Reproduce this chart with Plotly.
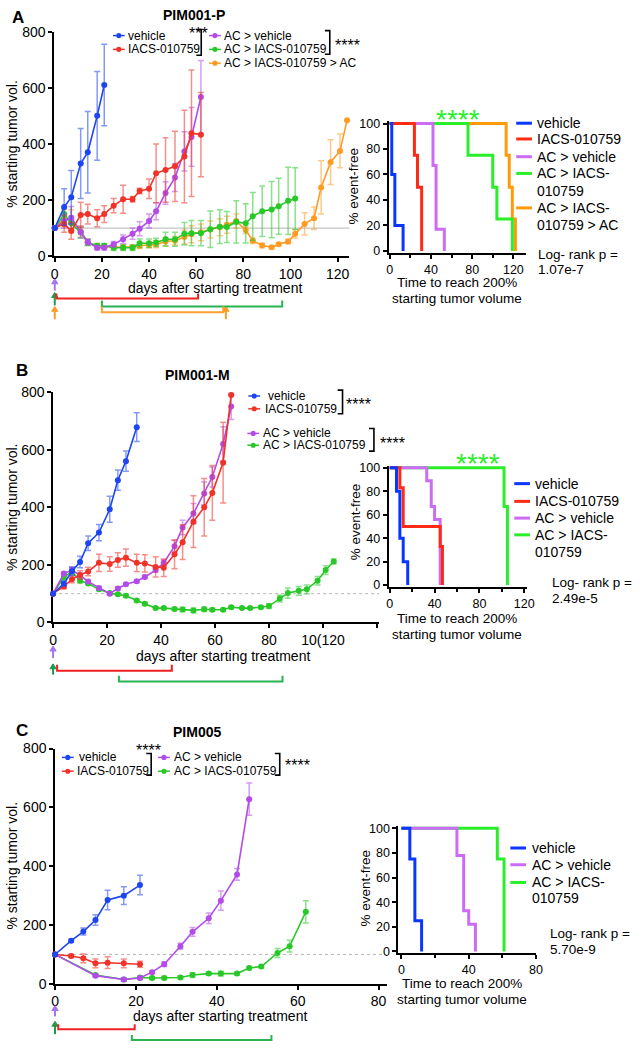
import plotly.graph_objects as go

W, H = 641, 1050
FONT = "Liberation Sans, Arial, Helvetica, sans-serif"

BLUE = "#1e46f0"
RED = "#f03228"
PURPLE = "#b24be8"
GREEN = "#28c828"
ORANGE = "#ff9b23"
KM_BLUE = "#0a37ff"
KM_RED = "#ff2a14"
KM_PURPLE = "#cc6cf5"
KM_GREEN = "#2aee2a"
KM_ORANGE = "#ff9a0a"

# ---------------- DATA ----------------
# Panel A : PIM001-P  (% starting tumor volume, mean +/- error)
a_veh_days = [0, 4, 7, 11, 14, 18, 21]
a_veh = [100, 175, 210, 330, 370, 500, 610]
a_veh_err = [0, 65, 95, 125, 145, 158, 145]

a_iacs_days = [0, 4, 7, 11, 14, 18, 21, 25, 29, 33, 36, 40, 43, 47, 51, 55, 58, 62]
a_iacs = [100, 115, 90, 147, 150, 135, 150, 180, 203, 203, 232, 240, 295, 307, 320, 355, 438, 433]
a_iacs_err = [0, 30, 30, 45, 35, 30, 30, 25, 50, 10, 10, 35, 105, 115, 125, 165, 225, 150]

a_acveh_days = [0, 4, 7, 11, 14, 18, 21, 25, 29, 33, 36, 40, 43, 47, 51, 55, 58, 62]
a_acveh = [100, 125, 137, 86, 50, 30, 30, 42, 60, 80, 98, 125, 160, 225, 280, 373, 425, 567]
a_acveh_err = [0, 25, 40, 20, 10, 8, 8, 10, 15, 20, 25, 25, 30, 40, 50, 70, 105, 130]

a_aciacs_days = [0, 4, 7, 11, 14, 18, 21, 25, 29, 33, 36, 40, 43, 47, 51, 55, 58, 62, 66, 70,
                 73, 77, 81, 84, 88, 92, 95, 99, 102]
a_aciacs = [100, 150, 117, 84, 49, 37, 37, 30, 30, 30, 46, 46, 49, 60, 60, 80, 82, 82, 96, 105,
            104, 122, 117, 142, 160, 166, 178, 197, 205]
a_aciacs_err = [0, 20, 25, 20, 12, 8, 8, 10, 10, 10, 15, 15, 15, 25, 25, 40, 45, 45, 65, 60,
                55, 75, 70, 85, 90, 100, 100, 120, 110]

a_tri_days = [0, 4, 7, 11, 14, 18, 21, 25, 29, 33, 36, 40, 43, 47, 51, 55, 58, 62, 66, 70,
              73, 77, 81, 84, 88, 92, 95, 99, 102, 106, 110, 113, 117, 121, 124]
a_tri = [100, 135, 125, 88, 50, 35, 35, 33, 32, 32, 37, 40, 42, 52, 55, 68, 78, 85, 95, 103,
         112, 125, 93, 55, 38, 32, 42, 52, 80, 115, 135, 245, 335, 375, 484]
a_tri_err = [0, 30, 40, 20, 10, 8, 8, 8, 8, 8, 10, 10, 12, 15, 15, 25, 30, 30, 30, 30,
             30, 25, 12, 10, 8, 5, 5, 8, 15, 40, 40, 95, 80, 60, 0]

# Panel A Kaplan-Meier (time to 200%, % event-free)
km_a_veh_t, km_a_veh_s = [0, 2, 5, 13], [100, 60, 20, 0]
km_a_iacs_t, km_a_iacs_s = [0, 24, 27, 31], [100, 75, 50, 0]
km_a_acveh_t, km_a_acveh_s = [0, 42, 45, 53], [100, 67, 17, 0]
km_a_aciacs_t, km_a_aciacs_s = [0, 76, 100, 104, 119], [100, 75, 50, 25, 0]
km_a_tri_t, km_a_tri_s = [0, 113, 116, 119, 122], [100, 75, 50, 25, 0]

# Panel B : PIM001-M
b_veh_days = [0, 4, 7, 10, 13, 17, 21, 24, 27, 31]
b_veh = [100, 135, 178, 210, 275, 312, 393, 494, 560, 678]
b_veh_err = [0, 8, 15, 20, 25, 28, 45, 35, 35, 50]

b_iacs_days = [0, 4, 7, 10, 13, 17, 21, 24, 27, 31, 34, 38, 41, 45, 48, 52, 56, 59, 63, 66]
b_iacs = [100, 125, 150, 165, 177, 207, 203, 217, 225, 207, 205, 193, 190, 237, 279, 350, 400, 450, 555, 790]
b_iacs_err = [0, 8, 12, 15, 15, 30, 25, 25, 30, 30, 30, 35, 30, 50, 60, 90, 100, 95, 140, 0]

b_acveh_days = [0, 4, 7, 10, 13, 17, 21, 24, 27, 31, 34, 38, 41, 45, 48, 52, 56, 59, 63, 66]
b_acveh = [100, 170, 182, 164, 142, 120, 100, 118, 133, 143, 158, 182, 207, 265, 330, 378, 448, 505, 620, 750]
b_acveh_err = [0, 5, 10, 8, 5, 5, 5, 5, 5, 5, 5, 8, 10, 20, 25, 35, 40, 35, 60, 45]

b_aciacs_days = [0, 4, 7, 10, 13, 17, 21, 24, 27, 31, 34, 38, 41, 45, 48, 52, 56, 59, 63, 66,
                 70, 73, 77, 80, 84, 87, 91, 94, 98, 101, 104]
b_aciacs = [100, 158, 177, 145, 135, 115, 102, 98, 93, 76, 65, 50, 50, 47, 45, 42, 46, 44, 44, 53,
            50, 50, 53, 57, 83, 102, 110, 115, 145, 182, 212]
b_aciacs_err = [0, 10, 10, 8, 5, 5, 5, 5, 5, 5, 5, 5, 5, 5, 8, 8, 8, 5, 5, 5,
                3, 3, 5, 8, 12, 18, 15, 15, 15, 15, 8]

km_b_veh_t, km_b_veh_s = [0, 6, 9, 12, 16], [100, 80, 40, 20, 0]
km_b_iacs_t, km_b_iacs_s = [0, 9, 12, 45, 47], [100, 83, 50, 33, 0]
km_b_acveh_t, km_b_acveh_s = [0, 33, 37, 40, 45], [100, 89, 67, 56, 0]
km_b_aciacs_t, km_b_aciacs_s = [0, 102, 105], [100, 67, 0]

# Panel C : PIM005
c_veh_days = [0, 4, 7, 10, 13, 17, 21]
c_veh = [100, 147, 178, 217, 285, 300, 336]
c_veh_err = [0, 5, 12, 18, 33, 30, 33]

c_iacs_days = [0, 4, 7, 10, 13, 17, 21]
c_iacs = [100, 95, 87, 70, 72, 70, 67]
c_iacs_err = [0, 5, 15, 15, 20, 15, 10]

c_acveh_days = [0, 10, 17, 21, 24, 27, 31, 34, 38, 41, 45, 48]
c_acveh = [100, 28, 15, 20, 40, 67, 128, 177, 223, 283, 372, 628]
c_acveh_err = [0, 5, 5, 5, 5, 8, 10, 15, 18, 33, 20, 55]

c_aciacs_days = [0, 10, 17, 21, 24, 27, 31, 34, 38, 41, 45, 48, 51, 55, 58, 62]
c_aciacs = [100, 30, 15, 22, 20, 20, 22, 30, 35, 35, 35, 54, 59, 105, 128, 245]
c_aciacs_err = [0, 5, 5, 5, 5, 5, 5, 8, 5, 8, 5, 5, 5, 15, 20, 38]

km_c_veh_t, km_c_veh_s = [0, 5, 8, 12], [100, 75, 25, 0]
km_c_acveh_t, km_c_acveh_s = [0, 33, 37, 40, 44], [100, 78, 33, 22, 0]
km_c_aciacs_t, km_c_aciacs_s = [0, 57, 61], [100, 75, 0]

# treatment windows (days)
a_treat_iacs = [0.7, 60.8]
a_treat_aciacs = [20, 96.5]
a_treat_tri = [20, 71.5]
a_ac_second = 72.6
b_treat_iacs = [1.5, 44]
b_treat_aciacs = [24.4, 85]
c_treat_iacs = [0.8, 19.7]
c_treat_aciacs = [19, 53.5]

main_ticks_a = [0, 20, 40, 60, 80, 100, 120]
main_ticks_b = [0, 20, 40, 60, 80, 100, 120]
main_ticklabels_b = ["0", "20", "40", "60", "80", "10(120", ""]
main_ticks_c = [0, 20, 40, 60, 80]
y_ticks_main = [0, 200, 400, 600, 800]
y_ticks_km = [0, 20, 40, 60, 80, 100]

# ---------------- LAYOUT GEOMETRY (pixels) ----------------
AX = {
    1: dict(x=(51, 352), xr=(-0.3, 125), y=(24, 252), yr=(0, 800)),
    2: dict(x=(392, 532), xr=(-1, 132.3), y=(114.7, 248.6), yr=(-1.5, 102)),
    3: dict(x=(50, 382), xr=(0, 120.7), y=(390, 624), yr=(0, 800)),
    4: dict(x=(392, 533), xr=(-1, 122.5), y=(464.6, 587.8), yr=(-1.5, 102)),
    5: dict(x=(52, 390), xr=(0, 82), y=(752, 991), yr=(0, 800)),
    6: dict(x=(402, 542.5), xr=(-1.75, 80.2), y=(830.5, 959.9), yr=(-1.5, 102)),
}


def px(x):
    return x / W


def py(y):
    return 1 - y / H


def d2px(i, d):
    a = AX[i]
    x0, x1 = a["x"]
    r0, r1 = a["xr"]
    return x0 + (d - r0) / (r1 - r0) * (x1 - x0)


def rgba(hexc, a):
    h = hexc.lstrip("#")
    return "rgba(%d,%d,%d,%.2f)" % (int(h[0:2], 16), int(h[2:4], 16), int(h[4:6], 16), a)


fig = go.Figure()


def axn(i):
    return ("x" if i == 1 else "x%d" % i), ("y" if i == 1 else "y%d" % i)


def add_series(i, days, vals, err, color):
    xa, ya = axn(i)
    fig.add_trace(go.Scatter(
        x=days, y=vals, mode="lines+markers", xaxis=xa, yaxis=ya,
        line=dict(color=color, width=1.6), marker=dict(color=color, size=6),
        error_y=dict(type="data", array=err, visible=True, color=rgba(color, 0.55),
                     thickness=1.5, width=3),
        cliponaxis=False, showlegend=False, hoverinfo="skip"))


def add_km(i, t, s, color):
    xa, ya = axn(i)
    fig.add_trace(go.Scatter(
        x=t, y=s, mode="lines", line=dict(color=color, width=3, shape="hv"),
        xaxis=xa, yaxis=ya, cliponaxis=False, showlegend=False, hoverinfo="skip"))


# Panel A
add_series(1, a_tri_days, a_tri, a_tri_err, ORANGE)
add_series(1, a_aciacs_days, a_aciacs, a_aciacs_err, GREEN)
add_series(1, a_acveh_days, a_acveh, a_acveh_err, PURPLE)
add_series(1, a_iacs_days, a_iacs, a_iacs_err, RED)
add_series(1, a_veh_days, a_veh, a_veh_err, BLUE)
add_km(2, km_a_tri_t, km_a_tri_s, KM_ORANGE)
add_km(2, km_a_aciacs_t, km_a_aciacs_s, KM_GREEN)
add_km(2, km_a_acveh_t, km_a_acveh_s, KM_PURPLE)
add_km(2, km_a_iacs_t, km_a_iacs_s, KM_RED)
add_km(2, km_a_veh_t, km_a_veh_s, KM_BLUE)

# Panel B
add_series(3, b_aciacs_days, b_aciacs, b_aciacs_err, GREEN)
add_series(3, b_acveh_days, b_acveh, b_acveh_err, PURPLE)
add_series(3, b_iacs_days, b_iacs, b_iacs_err, RED)
add_series(3, b_veh_days, b_veh, b_veh_err, BLUE)
add_km(4, km_b_aciacs_t, km_b_aciacs_s, KM_GREEN)
add_km(4, km_b_acveh_t, km_b_acveh_s, KM_PURPLE)
add_km(4, km_b_iacs_t, km_b_iacs_s, KM_RED)
add_km(4, km_b_veh_t, km_b_veh_s, KM_BLUE)

# Panel C
add_series(5, c_aciacs_days, c_aciacs, c_aciacs_err, GREEN)
add_series(5, c_acveh_days, c_acveh, c_acveh_err, PURPLE)
add_series(5, c_iacs_days, c_iacs, c_iacs_err, RED)
add_series(5, c_veh_days, c_veh, c_veh_err, BLUE)
add_km(6, km_c_aciacs_t, km_c_aciacs_s, KM_GREEN)
add_km(6, km_c_acveh_t, km_c_acveh_s, KM_PURPLE)
add_km(6, km_c_veh_t, km_c_veh_s, KM_BLUE)

# ---------------- AXES ----------------
layout_axes = {}
tickfont_main = dict(family=FONT, size=14, color="black")
tickfont_km = dict(family=FONT, size=12.5, color="black")

for i, a in AX.items():
    xa, ya = axn(i)
    km = i % 2 == 0
    xkey = "xaxis" if i == 1 else "xaxis%d" % i
    ykey = "yaxis" if i == 1 else "yaxis%d" % i
    if km:
        if i == 6:
            xt, mt = [0, 40, 80], [20, 60]
        else:
            xt, mt = [0, 40, 80, 120], [20, 60, 100]
        xcfg = dict(tickvals=xt, minor=dict(tickvals=mt, ticks="outside", ticklen=3,
                                            tickwidth=1.5, tickcolor="black"))
        ycfg = dict(tickvals=y_ticks_km)
        lw = 2
        tf = tickfont_km
    else:
        if i == 1:
            xcfg = dict(tickvals=main_ticks_a)
        elif i == 3:
            xcfg = dict(tickvals=main_ticks_b, ticktext=main_ticklabels_b)
        else:
            xcfg = dict(tickvals=main_ticks_c)
        ycfg = dict(tickvals=y_ticks_main)
        lw = 1.5
        tf = tickfont_main
    common = dict(showline=True, linecolor="black", linewidth=lw, ticks="outside",
                  ticklen=4, tickwidth=1.5, tickcolor="black", showgrid=False,
                  zeroline=False, tickfont=tf, fixedrange=True, layer="below traces")
    layout_axes[xkey] = dict(domain=[px(a["x"][0]), px(a["x"][1])], range=list(a["xr"]),
                             anchor=ya, ticklabelstandoff=0, **xcfg, **common)
    layout_axes[ykey] = dict(domain=[py(a["y"][1]), py(a["y"][0])], range=list(a["yr"]),
                             anchor=xa, ticklabelstandoff=0, **ycfg, **common)

shapes = []
annotations = []


def txt(x, y, s, size=14, color="black", anchor="left", bold=False, angle=0):
    if bold:
        s = "<b>%s</b>" % s
    annotations.append(dict(x=px(x), y=py(y), xref="paper", yref="paper", text=s,
                            showarrow=False, xanchor=anchor, yanchor="middle",
                            textangle=angle, borderpad=0,
                            font=dict(family=FONT, size=size, color=color)))


def stars(x, y, s, size=17, color="black", anchor="left"):
    # y is the visual centre of the asterisks
    txt(x, y + 0.28 * size, s, size=size, color=color, anchor=anchor)


def pline(x0, y0, x1, y1, color, width=1.5, dash="solid"):
    shapes.append(dict(type="line", xref="paper", yref="paper", x0=px(x0), y0=py(y0),
                       x1=px(x1), y1=py(y1), line=dict(color=color, width=width, dash=dash)))


def ppath(pts, color, width=1.5, fill=None):
    d = "M " + " L ".join("%.5f,%.5f" % (px(x), py(y)) for x, y in pts)
    if fill:
        d += " Z"
    shapes.append(dict(type="path", xref="paper", yref="paper", path=d,
                       line=dict(color=color, width=width),
                       fillcolor=fill if fill else "rgba(0,0,0,0)"))


def leg_marker(xc, yc, color):
    pline(xc - 6, yc, xc + 6, yc, color, 1.5)
    shapes.append(dict(type="circle", xref="paper", yref="paper",
                       x0=px(xc - 2.6), x1=px(xc + 2.6), y0=py(yc + 2.6), y1=py(yc - 2.6),
                       fillcolor=color, line=dict(color=color, width=0)))


def rbracket(x, ytop, ybot):
    ppath([(x - 5, ytop), (x, ytop), (x, ybot), (x - 5, ybot)], "black", 1.6)


def km_leg(x0, y, color):
    pline(x0, y, x0 + 16, y, color, 3)


def arrow(x, ybot, ytop, color):
    pline(x, ybot, x, ytop + 4, color, 2)
    ppath([(x - 3.2, ytop + 5), (x, ytop), (x + 3.2, ytop + 5)], color, 1, fill=color)


def tbracket(i, d0, d1, ybot, ytop, color):
    x0, x1 = d2px(i, d0), d2px(i, d1)
    ppath([(x0, ytop), (x0, ybot), (x1, ybot), (x1, ytop)], color, 2)


# reference lines at 100 %
for i, dash in [(1, "solid"), (3, "dot"), (5, "dot")]:
    xa, ya = axn(i)
    shapes.append(dict(type="line", xref=xa + " domain", yref=ya, x0=0, x1=1, y0=100, y1=100,
                       line=dict(color="#b4b4b4", width=1, dash=dash), layer="below"))

# ---------- Panel A texts ----------
txt(14, 10, "A", 17, bold=True, anchor="center")
txt(194, 7, "PIM001-P", 14, bold=True, anchor="center")
txt(8, 138, "% starting tumor vol.", 14, anchor="center", angle=-90)
txt(215, 284, "days after starting treatment", 14, anchor="center")
leg_marker(117, 28, BLUE)
leg_marker(117, 42, RED)
txt(125, 28, "vehicle", 12)
txt(125, 42, "IACS-010759", 12)
rbracket(201, 22, 48)
stars(198, 21, "***", 16, anchor="center")
leg_marker(215, 28, PURPLE)
leg_marker(215, 42, GREEN)
leg_marker(215, 56, ORANGE)
txt(223, 28, "AC > vehicle", 12)
txt(223, 42, "AC > IACS-010759", 12)
txt(223, 56, "AC > IACS-010759 > AC", 12)
rbracket(332, 23, 47)
stars(336, 34, "****", 16)

# KM A
stars(463, 105, "****", 28, color=KM_GREEN, anchor="center")
txt(356, 181, "% event-free", 13.5, anchor="center", angle=-90)
txt(462, 279, "Time to reach 200%", 13.5, anchor="center")
txt(462, 295, "starting tumor volume", 13.5, anchor="center")
for y, c in [(117, KM_BLUE), (133, KM_RED), (151, KM_PURPLE), (168, KM_GREEN), (203, KM_ORANGE)]:
    km_leg(522, y, c)
for y, s in [(117, "vehicle"), (133, "IACS-010759"), (151, "AC > vehicle"), (168, "AC > IACS-"),
             (186, "010759"), (203, "AC > IACS-"), (220, "010759 > AC")]:
    txt(542, y, s, 14)
txt(543, 250, "Log- rank p =", 13.5)
txt(543, 266, "1.07e-7", 13.5)

# treatment schedule A
arrow(d2px(1, 0), 287, 275, "#a874f0")
arrow(d2px(1, 0), 302, 289, "#1f9a4a")
arrow(d2px(1, 0), 316, 303, ORANGE)
arrow(d2px(1, a_ac_second), 316, 303, ORANGE)
tbracket(1, a_treat_iacs[0], a_treat_iacs[1], 295, 290, "#f02020")
tbracket(1, a_treat_aciacs[0], a_treat_aciacs[1], 303, 297, "#28b450")
tbracket(1, a_treat_tri[0], a_treat_tri[1], 309, 303, "#ffa030")

# ---------- Panel B texts ----------
txt(18, 368, "B", 17, bold=True, anchor="center")
txt(197, 373, "PIM001-M", 14, bold=True, anchor="center")
txt(8, 507, "% starting tumor vol.", 14, anchor="center", angle=-90)
txt(223, 658, "days after starting treatment", 14, anchor="center")
leg_marker(255, 394, BLUE)
leg_marker(255, 407, RED)
txt(268, 394, "vehicle", 12)
txt(265, 407, "IACS-010759", 12)
rbracket(345, 388, 412)
stars(348, 398, "****", 16)
leg_marker(254, 432, PURPLE)
leg_marker(254, 444, GREEN)
txt(263, 432, "AC > vehicle", 12)
txt(263, 444, "AC > IACS-010759", 12)
rbracket(377, 427, 450)
stars(382, 438, "****", 16)

# KM B
stars(483, 455, "****", 28, color=KM_GREEN, anchor="center")
txt(358, 522, "% event-free", 13.5, anchor="center", angle=-90)
txt(462, 620, "Time to reach 200%", 13.5, anchor="center")
txt(462, 636, "starting tumor volume", 13.5, anchor="center")
for y, c in [(483, KM_BLUE), (501, KM_RED), (518, KM_PURPLE), (535, KM_GREEN)]:
    km_leg(520, y, c)
for y, s in [(483, "vehicle"), (501, "IACS-010759"), (518, "AC > vehicle"), (535, "AC > IACS-"),
             (552, "010759")]:
    txt(540, y, s, 14)
txt(557, 583, "Log- rank p =", 13.5)
txt(557, 600, "2.49e-5", 13.5)

arrow(d2px(3, 0), 660, 648, "#a874f0")
arrow(d2px(3, 0), 677, 666, "#1f9a4a")
tbracket(3, b_treat_iacs[0], b_treat_iacs[1], 673, 667, "#f02020")
tbracket(3, b_treat_aciacs[0], b_treat_aciacs[1], 684, 678, "#28b450")

# ---------- Panel C texts ----------
txt(18, 734, "C", 17, bold=True, anchor="center")
txt(197, 735, "PIM005", 14, bold=True, anchor="center")
txt(8, 871, "% starting tumor vol.", 14, anchor="center", angle=-90)
txt(220, 1024, "days after starting treatment", 14, anchor="center")
leg_marker(65, 761, BLUE)
leg_marker(65, 775, RED)
txt(75, 761, "vehicle", 12)
txt(73, 775, "IACS-010759", 12)
rbracket(150, 757, 779)
stars(147, 750, "****", 16, anchor="center")
leg_marker(163, 761, PURPLE)
leg_marker(163, 775, GREEN)
txt(172, 761, "AC > vehicle", 12)
txt(172, 775, "AC > IACS-010759", 12)
rbracket(281, 757, 779)
stars(285, 765, "****", 16)

# KM C
txt(368, 894, "% event-free", 13.5, anchor="center", angle=-90)
txt(467, 991, "Time to reach 200%", 13.5, anchor="center")
txt(467, 1007, "starting tumor volume", 13.5, anchor="center")
for y, c in [(853, KM_BLUE), (870, KM_PURPLE), (888, KM_GREEN)]:
    km_leg(516, y, c)
for y, s in [(853, "vehicle"), (870, "AC > vehicle"), (888, "AC > IACS-"), (904, "010759")]:
    txt(537, y, s, 14)
txt(555, 940, "Log- rank p =", 13.5)
txt(555, 956, "5.70e-9", 13.5)

arrow(d2px(5, 0), 1024, 1013, "#a874f0")
arrow(d2px(5, 0), 1042, 1029, "#1f9a4a")
tbracket(5, c_treat_iacs[0], c_treat_iacs[1], 1037, 1032, "#f02020")
tbracket(5, c_treat_aciacs[0], c_treat_aciacs[1], 1048, 1043, "#28b450")

fig.update_layout(
    width=W, height=H, margin=dict(l=0, r=0, t=0, b=0, pad=0),
    paper_bgcolor="white", plot_bgcolor="rgba(0,0,0,0)",
    showlegend=False, shapes=shapes, annotations=annotations,
    font=dict(family=FONT, color="black"),
    **layout_axes,
)

fig.write_html("out.html", config={"displayModeBar": False},
               post_script="document.body.style.margin='0';document.body.style.padding='0';"
                           "document.body.style.overflow='hidden';")
